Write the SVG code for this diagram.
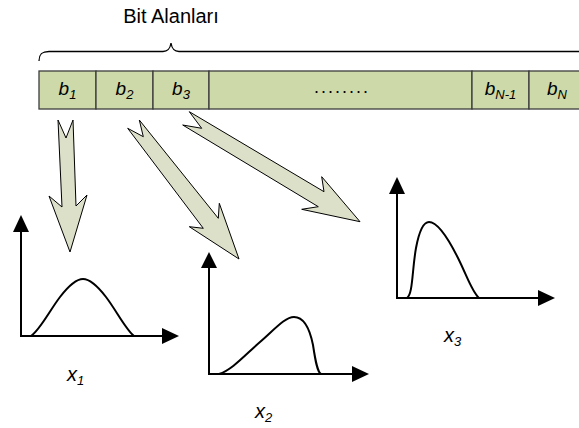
<svg xmlns="http://www.w3.org/2000/svg" width="579" height="428" viewBox="0 0 579 428">
<style>
  .cell { fill: #cdd9a9; stroke: #3c3c3c; stroke-width: 1.3; }
  .lbl { font-family: "Liberation Sans", Arial, sans-serif; font-size: 19px; font-style: italic; fill: #000; }
  .xl { font-family: "Liberation Sans", Arial, sans-serif; font-size: 20px; font-style: italic; fill: #000; }
  .title { font-family: "Liberation Sans", Arial, sans-serif; font-size: 20px; fill: #000; }
  .blk { fill: #dde0c9; stroke: #000; stroke-width: 1; stroke-linejoin: miter; }
  .axis { stroke: #000; stroke-width: 2; fill: none; }
  .curve { stroke: #000; stroke-width: 2; fill: none; }
  .head { fill: #000; }
</style>

<g id="title">
  <text class="title" x="171" y="23" text-anchor="middle">Bit Alanları</text>
  <path d="M39,61 C39,54 42,51.5 49,51.5 H163 C168,51.5 170,49 171,43 C172,49 174,51.5 179,51.5 H590" fill="none" stroke="#000" stroke-width="1.3"/>
</g>

<g id="bitfield">
  <g id="cell-b1">
    <rect class="cell" x="39" y="71" width="57" height="38"/>
    <text class="lbl" x="67.5" y="95" text-anchor="middle">b<tspan font-size="13" dy="4">1</tspan></text>
  </g>
  <g id="cell-b2">
    <rect class="cell" x="96" y="71" width="57" height="38"/>
    <text class="lbl" x="124.5" y="95" text-anchor="middle">b<tspan font-size="13" dy="4">2</tspan></text>
  </g>
  <g id="cell-b3">
    <rect class="cell" x="153" y="71" width="56" height="38"/>
    <text class="lbl" x="181" y="95" text-anchor="middle">b<tspan font-size="13" dy="4">3</tspan></text>
  </g>
  <g id="cell-dots">
    <rect class="cell" x="209" y="71" width="263" height="38"/>
    <text x="314" y="93" font-family="Liberation Sans, Arial, sans-serif" font-size="18" textLength="54" lengthAdjust="spacing">........</text>
  </g>
  <g id="cell-bN1">
    <rect class="cell" x="472" y="71" width="57" height="38"/>
    <text class="lbl" x="500.5" y="95" text-anchor="middle">b<tspan font-size="13" dy="4">N-1</tspan></text>
  </g>
  <g id="cell-bN">
    <rect class="cell" x="529" y="71" width="60" height="38"/>
    <text class="lbl" x="557" y="95" text-anchor="middle">b<tspan font-size="13" dy="4">N</tspan></text>
  </g>
</g>

<g id="connectors">
  <polygon class="blk" points="58,120 66,138 73,120 76,206 87,195 70,252 49,196 62,207"/>
  <polygon class="blk" points="139.3,120 218.3,218.3 219.3,203.3 239,259 189.3,226.7 203.3,228.3 127.7,128.3 143.3,136.7"/>
  <polygon class="blk" points="189.3,111.7 324,191.7 321.7,176.7 360,221.7 301.7,209.3 318.3,206.7 182.7,125 201.7,128.3"/>
</g>

<g id="plot-x1">
  <line class="axis" x1="21" y1="336" x2="21" y2="230"/>
  <polygon class="head" points="21,215 13,232 29,232"/>
  <line class="axis" x1="20" y1="336" x2="164" y2="336"/>
  <polygon class="head" points="179,336 162,328 162,344"/>
  <path class="curve" d="M31,336 C40,330 50,310 60,297 C70,284 78,279 83,279 C88,279 96,284 106,297 C116,310 126,330 134,336"/>
  <text class="xl" x="67" y="381">x<tspan font-size="13" dy="4">1</tspan></text>
</g>

<g id="plot-x2">
  <line class="axis" x1="209" y1="374" x2="209" y2="266"/>
  <polygon class="head" points="209,252 201,268 217,268"/>
  <line class="axis" x1="208" y1="374" x2="354" y2="374"/>
  <polygon class="head" points="369,374 352,366 352,382"/>
  <path class="curve" d="M219,374 C232,370 245,355 260,342 C275,329 285,317 294,317 C305,317 310,330 313,345 C315,358 317,372 321,374"/>
  <text class="xl" x="255" y="418">x<tspan font-size="13" dy="4">2</tspan></text>
</g>

<g id="plot-x3">
  <line class="axis" x1="397" y1="298" x2="397" y2="192"/>
  <polygon class="head" points="397,177 389,194 405,194"/>
  <line class="axis" x1="396" y1="298" x2="540" y2="298"/>
  <polygon class="head" points="555,298 538,290 538,306"/>
  <path class="curve" d="M407,298 C413,294 412,270 416,248 C419,232 423,222 429,222 C438,222 448,238 458,258 C467,276 472,292 479,298"/>
  <text class="xl" x="444" y="342">x<tspan font-size="13" dy="4">3</tspan></text>
</g>
</svg>
